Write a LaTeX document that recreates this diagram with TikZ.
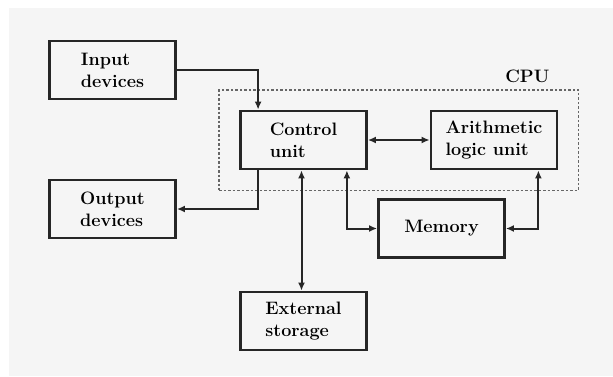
\documentclass[tikz,border=0pt]{standalone}
\usepackage{tikz}
\usetikzlibrary{arrows.meta,positioning,fit}

\tikzset{
  unitbox/.style={draw=black!85, line width=2.8pt, fill=none, align=left,
    minimum width=126pt, minimum height=58pt, inner sep=0pt,
    font=\fontsize{18}{22}\selectfont\bfseries},
  cpubox/.style={draw=black!60, line width=1.8pt, dash pattern=on 2.5pt off 2pt},
  link/.style={line width=2pt, draw=black!85},
  biarrow/.style={link, {Latex[length=8pt,width=7pt]}-{Latex[length=8pt,width=7pt]}},
  onearrow/.style={link, -{Latex[length=8pt,width=7pt]}}
}

\begin{document}
\begin{tikzpicture}[x=1pt,y=-1pt]
\useasboundingbox (0,0) rectangle (613,376);
\fill[white] (0,0) rectangle (613,376);
\fill[black!4] (9,8) rectangle (613,376);
% blocks
\node[unitbox] (inp) at (112.5,70) {Input\\devices};
\node[unitbox] (outp) at (112.5,209) {Output\\devices};
\node[unitbox] (cu) at (303.5,140) {Control\\unit};
\node[unitbox] (alu) at (494,140) {Arithmetic\\logic unit};
\node[unitbox] (mem) at (441.5,228.5) {Memory};
\node[unitbox] (ext) at (303.5,321) {External\\storage};
% cpu frame
\node[cpubox, fit=(cu)(alu), inner xsep=20pt, inner ysep=20pt] (cpu) {};
\node[anchor=south, font=\fontsize{18}{22}\selectfont\bfseries, inner sep=0pt] (cpulbl)
  at ([xshift=-52pt,yshift=6pt]cpu.north east) {CPU};
% links
\draw[onearrow] (inp.east) -| ([xshift=19pt]cu.north west);
\draw[onearrow] ([xshift=19pt]cu.south west) |- (outp.east);
\draw[biarrow] (cu.east) -- (alu.west);
\draw[biarrow] ([xshift=-2pt]cu.south) -- ([xshift=-2pt]ext.north);
\draw[biarrow] ([xshift=-21pt]cu.south east) |- (mem.west);
\draw[biarrow] ([xshift=-20pt]alu.south east) |- (mem.east);
\end{tikzpicture}
\end{document}
